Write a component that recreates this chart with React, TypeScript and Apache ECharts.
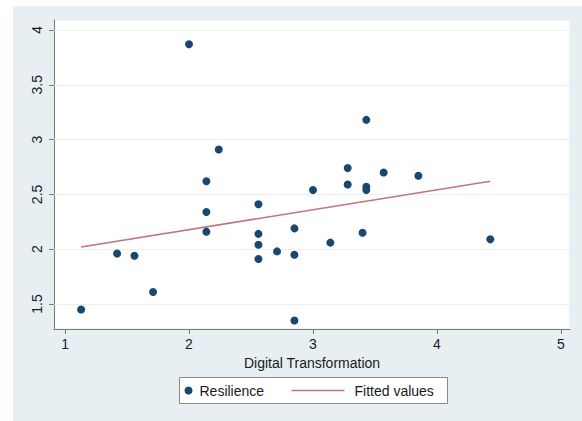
import React, { useEffect, useRef } from "react";
import * as echarts from "echarts";

const resilienceX = [2.0, 2.24, 2.14, 2.14, 2.14, 1.13, 1.42, 1.56, 1.71, 2.56, 2.56, 2.56, 2.56, 2.71, 2.85, 2.85, 2.85, 3.0, 3.28, 3.43, 3.43, 3.57, 3.85, 3.14, 3.4, 4.43, 3.43, 3.28];
const resilienceY = [3.87, 2.91, 2.62, 2.34, 2.16, 1.45, 1.96, 1.94, 1.61, 2.41, 2.14, 2.04, 1.91, 1.98, 2.19, 1.95, 1.35, 2.54, 2.59, 2.57, 2.54, 2.7, 2.67, 2.06, 2.15, 2.09, 3.18, 2.74];
const fittedX = [1.13, 4.43];
const fittedY = [2.02, 2.62];
const xTicks = [1, 2, 3, 4, 5];
const yTicks = [1.5, 2, 2.5, 3, 3.5, 4];
const xTitle = "Digital Transformation";
const legendNames = ["Resilience", "Fitted values"];

const FONT = "'Liberation Sans', Arial, Helvetica, sans-serif";
const DOT = "#1a476f";
const FIT = "#c27579";
const BG = "#e7eff2";
const TEXT = "#1a1a1a";

export default function App() {
  const ref = useRef<HTMLDivElement>(null);
  useEffect(() => {
    if (!ref.current) return;
    const chart = echarts.init(ref.current, null, { renderer: "svg" });
    chart.setOption({
      animation: false,
      grid: {
        left: 54,
        right: 12,
        top: 20,
        bottom: 92,
        show: true,
        backgroundColor: "#ffffff",
        borderColor: "#e2ebee",
        borderWidth: 1,
      },
      xAxis: {
        type: "value",
        min: 0.911,
        max: 5.073,
        name: xTitle,
        nameLocation: "middle",
        nameGap: 25,
        nameTextStyle: { fontFamily: FONT, fontSize: 14, color: TEXT },
        axisLine: { show: true, lineStyle: { color: "#7a7a7a", width: 1 } },
        axisTick: { show: true, length: 5, customValues: xTicks, lineStyle: { color: "#7a7a7a" } },
        axisLabel: {
          customValues: xTicks,
          fontFamily: FONT,
          fontSize: 14,
          color: TEXT,
          margin: 8,
          formatter: (v: number) => String(v),
        },
        splitLine: { show: false },
      },
      yAxis: {
        type: "value",
        min: 1.272,
        max: 4.091,
        axisLine: { show: true, lineStyle: { color: "#7a7a7a", width: 1 } },
        axisTick: { show: true, length: 5, customValues: yTicks, lineStyle: { color: "#7a7a7a" } },
        axisLabel: {
          customValues: yTicks,
          rotate: 90,
          fontFamily: FONT,
          fontSize: 14,
          color: TEXT,
          margin: 10,
          formatter: (v: number) => String(v),
        },
        splitLine: { show: false },
      },
      series: [
        {
          name: legendNames[0],
          type: "scatter",
          symbol: "circle",
          symbolSize: 8,
          itemStyle: { color: DOT, opacity: 1 },
          data: resilienceX.map((x, i) => [x, resilienceY[i]]),
          z: 3,
          markLine: {
            silent: true,
            symbol: "none",
            z: 1,
            label: { show: false },
            lineStyle: { color: "#e8f0f2", width: 1, type: "solid" },
            data: yTicks.map((v) => ({ yAxis: v })),
          },
        },
        {
          name: legendNames[1],
          type: "line",
          showSymbol: false,
          symbol: "none",
          lineStyle: { color: FIT, width: 1.6 },
          itemStyle: { color: FIT },
          data: fittedX.map((x, i) => [x, fittedY[i]]),
          z: 2,
        },
      ],
      graphic: [
        {
          type: "group",
          left: 179,
          top: 377,
          children: [
            {
              type: "rect",
              shape: { x: 0, y: 0, width: 268, height: 26 },
              style: { fill: "#ffffff", stroke: "#8a8a8a", lineWidth: 1 },
            },
            {
              type: "circle",
              shape: { cx: 9, cy: 13, r: 4 },
              style: { fill: DOT },
            },
            {
              type: "text",
              x: 20,
              y: 13,
              style: {
                text: legendNames[0],
                fontFamily: FONT,
                fontSize: 14,
                fill: TEXT,
                verticalAlign: "middle",
                align: "left",
              },
            },
            {
              type: "line",
              shape: { x1: 112, y1: 13, x2: 165, y2: 13 },
              style: { stroke: FIT, lineWidth: 1.6 },
            },
            {
              type: "text",
              x: 175,
              y: 13,
              style: {
                text: legendNames[1],
                fontFamily: FONT,
                fontSize: 14,
                fill: TEXT,
                verticalAlign: "middle",
                align: "left",
              },
            },
          ],
        },
      ],
    });
    return () => chart.dispose();
  }, []);

  return (
    <div style={{ position: "fixed", left: 0, top: 0, width: 582, height: 421, background: "#ffffff" }}>
      <div style={{ position: "absolute", left: 13, top: 6, width: 569, height: 415, background: BG }} />
      <div ref={ref} style={{ position: "absolute", left: 0, top: 0, width: 582, height: 421 }} />
    </div>
  );
}
